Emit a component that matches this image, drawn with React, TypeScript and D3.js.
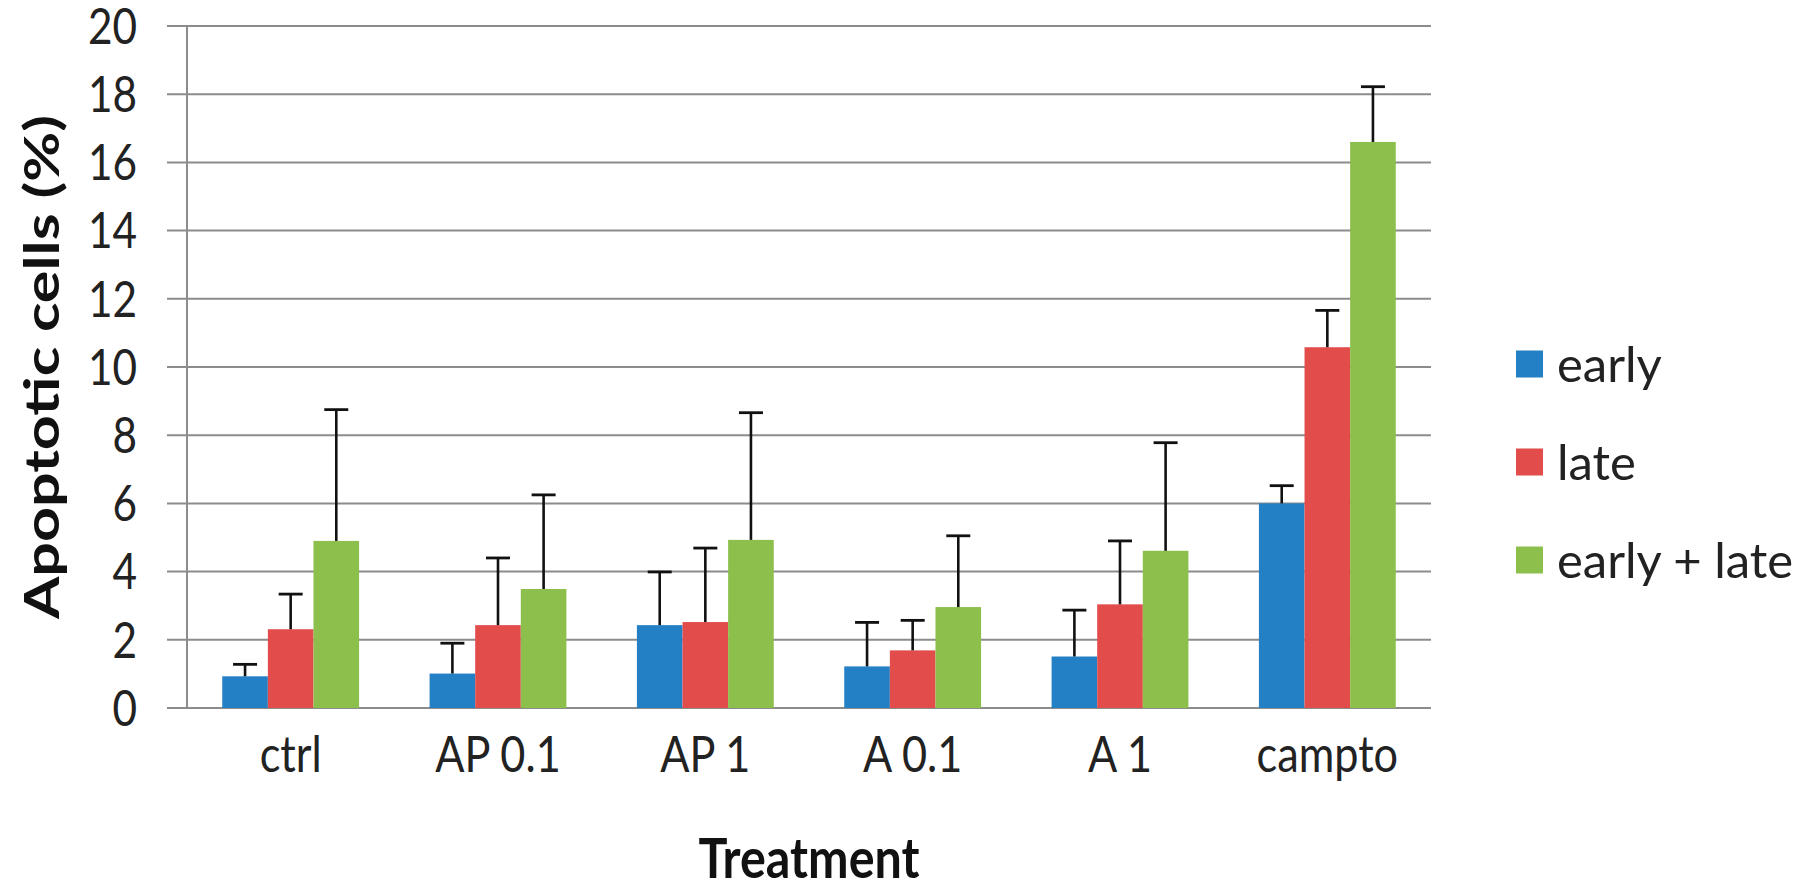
import React from "react";
import * as d3 from "d3";

const categories = ["ctrl", "AP 0.1", "AP 1", "A 0.1", "A 1", "campto"];
const seriesNames = ["early", "late", "early + late"];
const earlyValues = [0.93, 1.01, 2.43, 1.22, 1.51, 6.0];
const lateValues = [2.31, 2.43, 2.52, 1.69, 3.04, 10.58];
const bothValues = [4.9, 3.49, 4.93, 2.96, 4.61, 16.6];
const earlyErr = [0.35, 0.89, 1.56, 1.29, 1.36, 0.52];
const lateErr = [1.03, 1.97, 2.17, 0.88, 1.86, 1.08];
const bothErr = [3.85, 2.76, 3.73, 2.09, 3.17, 1.62];
const yTicks = [0, 2, 4, 6, 8, 10, 12, 14, 16, 18, 20];
const colors = ["#2480c5", "#e24d4c", "#8cbf4b"];

const W = 1808;
const H = 881;
const left = 187;
const right = 1431;
const top = 26;
const bottom = 708;
const font = "Lato, 'Open Sans', sans-serif";

export default function App() {
  const values = [earlyValues, lateValues, bothValues];
  const errs = [earlyErr, lateErr, bothErr];
  const x0 = d3.scaleBand<string>().domain(categories).range([left, right]).paddingInner(0.34).paddingOuter(0.17);
  const x1 = d3.scaleBand<number>().domain([0, 1, 2]).range([0, x0.bandwidth()]);
  const y = d3.scaleLinear().domain([0, 20]).range([bottom, top]);
  const grid = "#8c8c8c";
  const capHalf = 12;

  return (
    <svg width={W} height={H} style={{ position: "absolute", left: 0, top: 0, background: "#fff" }}>
      {yTicks.map((t) => (
        <line key={"g" + t} x1={left - 20} x2={right} y1={y(t)} y2={y(t)} stroke={grid} strokeWidth={2} />
      ))}
      <line x1={left} x2={left} y1={top} y2={bottom} stroke={grid} strokeWidth={2} />
      {yTicks.map((t) => (
        <text
          key={"t" + t}
          transform={`translate(137,${y(t)}) scale(0.92,1.08)`}
          dy="0.36em"
          textAnchor="end"
          fontFamily={font}
          fontSize={46}
          fill="#222"
        >
          {t}
        </text>
      ))}
      {categories.map((c, i) => (
        <g key={c} transform={`translate(${x0(c)},0)`}>
          {values.map((vals, s) => {
            const bx = x1(s)!;
            const bw = x1.bandwidth();
            const cx = bx + bw / 2;
            const v = vals[i];
            const e = errs[s][i];
            return (
              <g key={s}>
                <rect x={bx} y={y(v)} width={bw} height={y(0) - y(v)} fill={colors[s]} />
                <line x1={cx} x2={cx} y1={y(v)} y2={y(v + e)} stroke="#111" strokeWidth={2.6} />
                <line x1={cx - capHalf} x2={cx + capHalf} y1={y(v + e)} y2={y(v + e)} stroke="#111" strokeWidth={2.8} />
              </g>
            );
          })}
        </g>
      ))}
      {categories.map((c) => (
        <text
          key={"x" + c}
          transform={`translate(${x0(c)! + x0.bandwidth() / 2},754) scale(0.92,1.08)`}
          dy="0.36em"
          textAnchor="middle"
          fontFamily={font}
          fontSize={47}
          fill="#222"
        >
          {c}
        </text>
      ))}
      <text
        transform={`translate(${(left + right) / 2},858) scale(0.95,1.08)`}
        dy="0.36em"
        textAnchor="middle"
        fontFamily={font}
        fontWeight="bold"
        fontSize={51}
        fill="#111"
      >
        Treatment
      </text>
      <text
        transform={`translate(42,${(top + bottom) / 2}) rotate(-90) scale(1.3,1)`}
        dy="0.36em"
        textAnchor="middle"
        fontFamily={font}
        fontWeight="bold"
        fontSize={47}
        fill="#111"
      >
        Apoptotic cells (%)
      </text>
      {seriesNames.map((n, s) => {
        const cy = 364 + s * 98;
        return (
          <g key={n}>
            <rect x={1516} y={cy - 13.5} width={27} height={27} fill={colors[s]} />
            <text x={1557} y={cy} dy="0.36em" fontFamily={font} fontSize={49} fill="#222">
              {n}
            </text>
          </g>
        );
      })}
    </svg>
  );
}
